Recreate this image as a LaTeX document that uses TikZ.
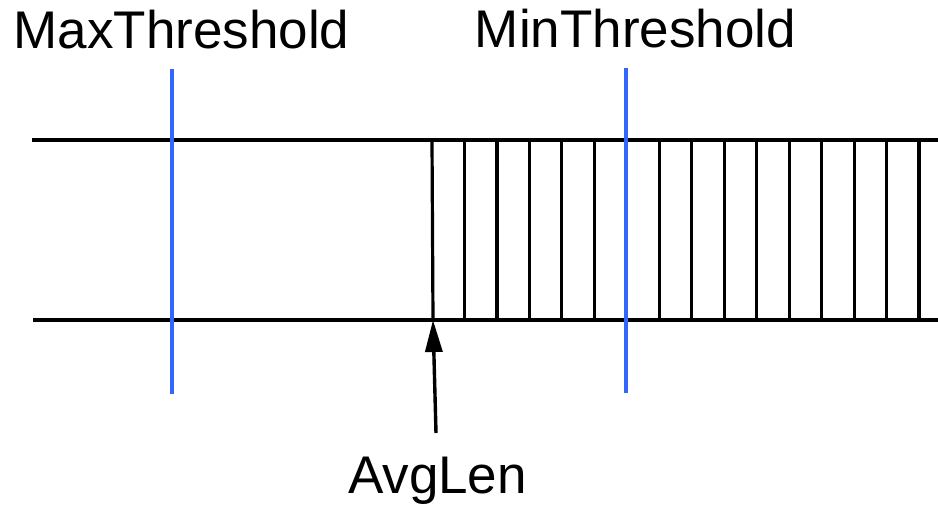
\documentclass[tikz,border=0pt]{standalone}
\usepackage{fontspec}
\setmainfont{Liberation Sans}
\usetikzlibrary{arrows.meta}
\definecolor{thresholdblue}{RGB}{51,102,255}
\begin{document}
\begin{tikzpicture}[x=1pt,y=-1pt,
  label/.style={font=\fontsize{53}{60}\selectfont, inner sep=0pt, anchor=base},
  rail/.style={line width=3.6pt, black},
  slot/.style={line width=3.2pt, black},
  threshold/.style={line width=3.2pt, thresholdblue},
  pointer/.style={line width=3.4pt, black, -{Triangle[length=32pt,width=17pt]}}]
\useasboundingbox (0,0) rectangle (938,509);

% queue outline
\coordinate (topL) at (32,140);
\coordinate (topR) at (938,140);
\coordinate (botL) at (33,320);
\coordinate (botR) at (938,320);
\draw[rail] (topL) -- (topR);
\draw[rail] (botL) -- (botR);

% filled slots
\coordinate (slot0top) at (432,140);
\coordinate (slot0bot) at (433,320);
\draw[slot] (slot0top) -- (slot0bot);
\foreach \k in {1,...,15} {
  \draw[slot] ({432+32.47*\k},140) -- ({432+32.47*\k},320);
}

% threshold markers
\coordinate (maxTop) at (172,69);
\coordinate (maxBot) at (172,394);
\coordinate (minTop) at (626,68);
\coordinate (minBot) at (626,393);
\draw[threshold] (maxTop) -- (maxBot);
\draw[threshold] (minTop) -- (minBot);

% labels
\node[label] (maxlbl) at (181.5,48) {MaxThreshold};
\node[label] (minlbl) at (635.5,47) {MinThreshold};
\node[label] (avglbl) at (437.5,493) {AvgLen};

% average length pointer
\coordinate (avgTail) at (436,433);
\draw[pointer] (avgTail) -- (slot0bot);
\end{tikzpicture}
\end{document}
